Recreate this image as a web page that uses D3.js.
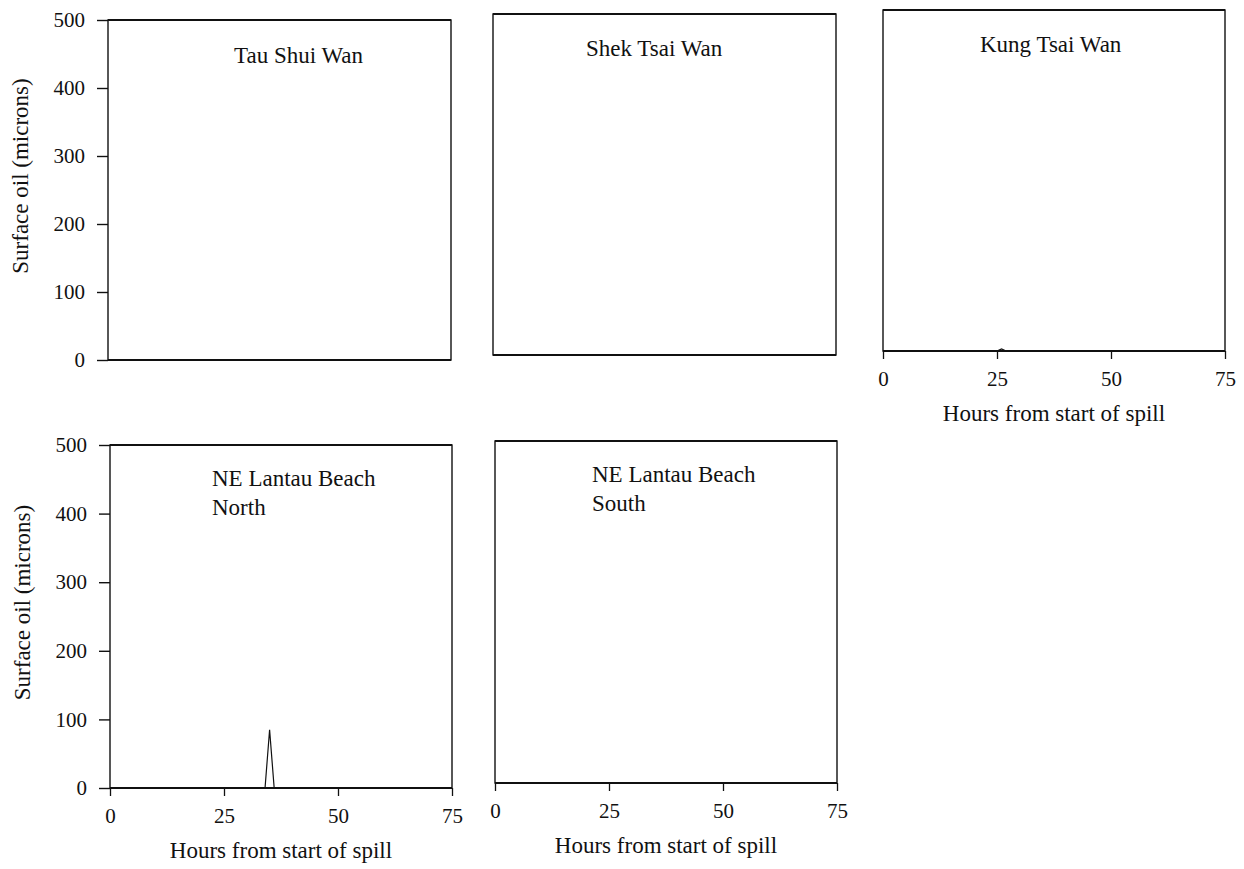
<!DOCTYPE html>
<html>
<head>
<meta charset="utf-8">
<script src="https://cdn.jsdelivr.net/npm/d3@7"></script>
<style>
  body { margin: 0; background: #fff; }
  svg text { font-family: "Liberation Serif", "Times New Roman", serif; fill: #111; }
</style>
</head>
<body>
<div id="chart"></div>
<script>
const fullwidth = 1244;
const fullheight = 869;

// panel names and data (hours from start of spill, surface oil in microns)
const panelNames = [
  ["Tau Shui Wan"],
  ["Shek Tsai Wan"],
  ["Kung Tsai Wan"],
  ["NE Lantau Beach", "North"],
  ["NE Lantau Beach", "South"]
];
const tauShuiWanHours = [0, 75];
const tauShuiWanOil = [0, 0];
const shekTsaiWanHours = [0, 75];
const shekTsaiWanOil = [0, 0];
const kungTsaiWanHours = [0, 25, 26, 27, 75];
const kungTsaiWanOil = [0, 0, 3, 0, 0];
const lantauNorthHours = [0, 34, 35, 36, 75];
const lantauNorthOil = [0, 0, 85, 0, 0];
const lantauSouthHours = [0, 75];
const lantauSouthOil = [0, 0];

const xTicks = [0, 25, 50, 75];
const yTicks = [0, 100, 200, 300, 400, 500];
const xLabel = "Hours from start of spill";
const yLabel = "Surface oil (microns)";

const series = [
  [tauShuiWanHours, tauShuiWanOil],
  [shekTsaiWanHours, shekTsaiWanOil],
  [kungTsaiWanHours, kungTsaiWanOil],
  [lantauNorthHours, lantauNorthOil],
  [lantauSouthHours, lantauSouthOil]
];

// layout of each panel box on the page
const boxes = [
  { x0: 108, x1: 451, y0: 20, y1: 360, yAxis: true, xAxis: false, tx: 126, ty: 43 },
  { x0: 493, x1: 836, y0: 14, y1: 355, yAxis: false, xAxis: false, tx: 93, ty: 42 },
  { x0: 883, x1: 1225, y0: 10, y1: 351, yAxis: false, xAxis: true, tx: 97, ty: 42 },
  { x0: 110, x1: 452, y0: 445, y1: 788, yAxis: true, xAxis: true, tx: 102, ty: 41 },
  { x0: 495, x1: 837, y0: 441, y1: 783, yAxis: false, xAxis: true, tx: 97, ty: 41 }
];

const svg = d3.select("#chart")
  .append("svg")
  .attr("width", fullwidth)
  .attr("height", fullheight);

boxes.forEach((b, i) => {
  const x = d3.scaleLinear().domain([0, 75]).range([b.x0, b.x1]);
  const y = d3.scaleLinear().domain([0, 500]).range([b.y1, b.y0]);
  const g = svg.append("g").attr("class", "panel");

  // frame
  g.append("rect")
    .attr("x", b.x0)
    .attr("y", b.y0)
    .attr("width", b.x1 - b.x0)
    .attr("height", b.y1 - b.y0)
    .attr("fill", "none")
    .attr("stroke", "#111")
    .attr("stroke-width", 1.4);
  // heavier top and bottom edges
  g.append("line").attr("x1", b.x0).attr("x2", b.x1).attr("y1", b.y0).attr("y2", b.y0)
    .attr("stroke", "#111").attr("stroke-width", 2);
  g.append("line").attr("x1", b.x0).attr("x2", b.x1).attr("y1", b.y1).attr("y2", b.y1)
    .attr("stroke", "#111").attr("stroke-width", 2.2);

  if (b.yAxis) {
    const ya = g.append("g")
      .attr("transform", `translate(${b.x0},0)`)
      .call(d3.axisLeft(y).tickValues(yTicks).tickSize(11).tickPadding(12));
    ya.select(".domain").remove();
    ya.selectAll("line").attr("stroke", "#111").attr("stroke-width", 1.4);
    ya.selectAll("text").style("font-size", "21px").style("font-family", "Liberation Serif");

    g.append("text")
      .attr("transform", `translate(${b.x0 - 80},${(b.y0 + b.y1) / 2 - 14}) rotate(-90)`)
      .attr("text-anchor", "middle")
      .style("font-size", "23px")
      .text(yLabel);
  }

  if (b.xAxis) {
    const xa = g.append("g")
      .attr("transform", `translate(0,${b.y1})`)
      .call(d3.axisBottom(x).tickValues(xTicks).tickSize(8).tickPadding(12));
    xa.select(".domain").remove();
    xa.selectAll("line").attr("stroke", "#111").attr("stroke-width", 1.3);
    xa.selectAll("text").style("font-size", "21px").style("font-family", "Liberation Serif");

    g.append("text")
      .attr("x", (b.x0 + b.x1) / 2)
      .attr("y", b.y1 + 70)
      .attr("text-anchor", "middle")
      .style("font-size", "23px")
      .text(xLabel);
  }

  // data line
  const [hours, oil] = series[i];
  const pts = hours.map((h, k) => [h, oil[k]]);
  g.append("path")
    .datum(pts)
    .attr("fill", "none")
    .attr("stroke", "#111")
    .attr("stroke-width", 1.2)
    .attr("d", d3.line().x(d => x(d[0])).y(d => y(d[1])));

  // panel title
  const title = g.append("text")
    .attr("x", b.x0 + b.tx)
    .attr("y", b.y0 + b.ty)
    .style("font-size", "23px");
  panelNames[i].forEach((line, k) => {
    title.append("tspan")
      .attr("x", b.x0 + b.tx)
      .attr("dy", k === 0 ? 0 : 29)
      .text(line);
  });
});
</script>
</body>
</html>
